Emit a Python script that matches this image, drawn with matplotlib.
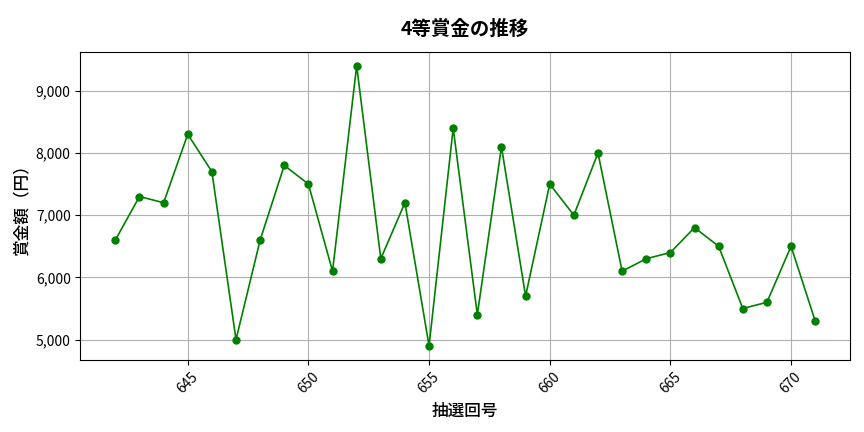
import matplotlib
matplotlib.use("Agg")
import matplotlib.pyplot as plt
from matplotlib.ticker import FuncFormatter

plt.rcParams['font.family'] = ['Noto Sans CJK JP', 'DejaVu Sans']

# 抽選回号 and 4等賞金 (円)
draw_no = list(range(642, 672))
prize = [6600, 7300, 7200, 8300, 7700, 5000, 6600, 7800, 7500, 6100,
         9400, 6300, 7200, 4900, 8400, 5400, 8100, 5700, 7500, 7000,
         8000, 6100, 6300, 6400, 6800, 6500, 5500, 5600, 6500, 5300]

fig, ax = plt.subplots(figsize=(8.64, 4.32), dpi=100)
ax.plot(draw_no, prize, marker='o', color='green', lw=1.2, markersize=5)

ax.set_title('4等賞金の推移', fontsize=14, fontweight='bold', pad=12)
ax.set_xlabel('抽選回号', fontsize=12, fontweight='medium', labelpad=4)
ax.set_ylabel('賞金額（円）', fontsize=12, fontweight='medium')
ax.yaxis.set_major_formatter(FuncFormatter(lambda v, p: f'{int(v):,}'))
ax.tick_params(axis='x', rotation=45, labelsize=10)
ax.tick_params(axis='y', labelsize=10)
ax.grid(True)

plt.subplots_adjust(left=0.093, right=0.984, top=0.88, bottom=0.167)
plt.savefig('out.png')
